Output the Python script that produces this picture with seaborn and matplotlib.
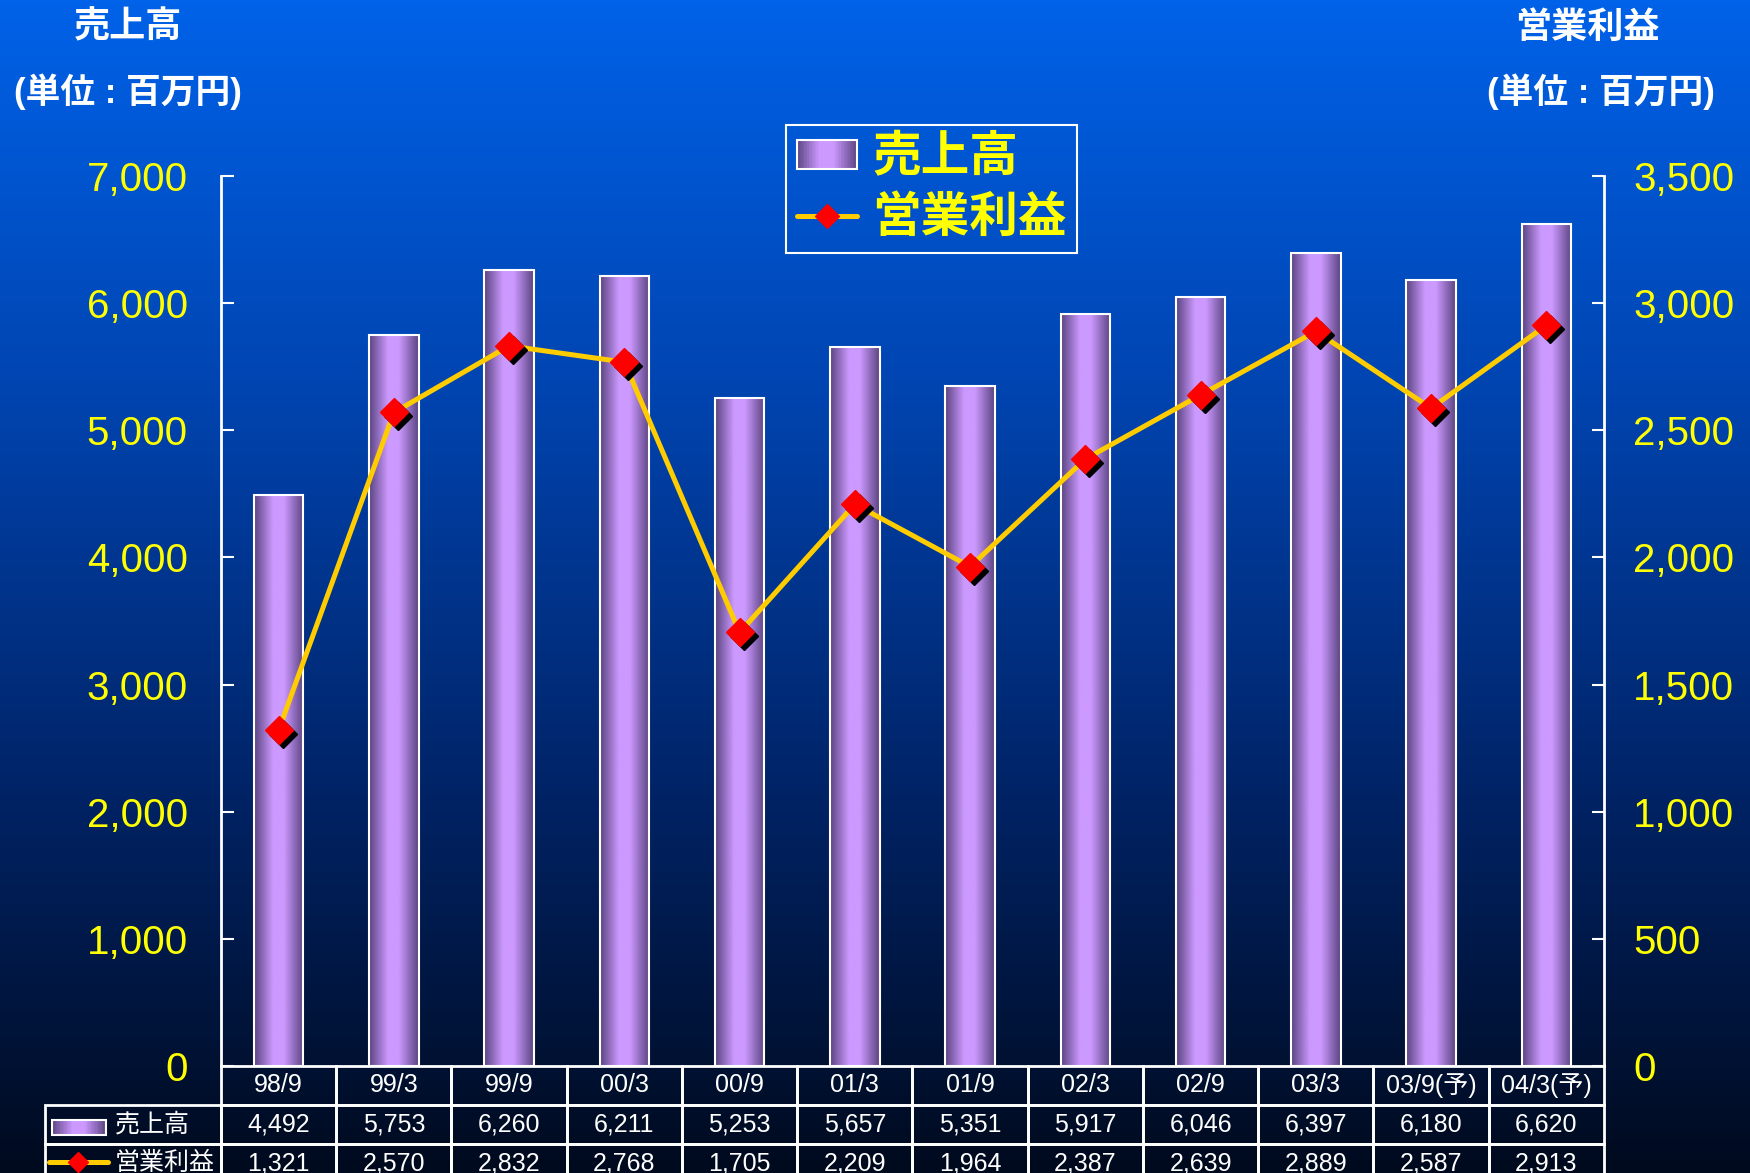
import numpy as np
import pandas as pd
import seaborn as sns
import matplotlib.pyplot as plt
from matplotlib import transforms
from matplotlib.colors import LinearSegmentedColormap
from matplotlib.patches import Rectangle
from matplotlib.lines import Line2D
from matplotlib.legend_handler import HandlerBase
from matplotlib.table import Table
from matplotlib.ticker import FuncFormatter, MultipleLocator

periods = ['98/9', '99/3', '99/9', '00/3', '00/9', '01/3', '01/9', '02/3',
           '02/9', '03/3', '03/9(予)', '04/3(予)']
sales = [4492, 5753, 6260, 6211, 5253, 5657, 5351, 5917, 6046, 6397, 6180, 6620]
profit = [1321, 2570, 2832, 2768, 1705, 2209, 1964, 2387, 2639, 2889, 2587, 2913]

FONT = ['Liberation Sans', 'Noto Sans CJK JP']
sns.set_theme(style='white')
plt.rcParams['font.family'] = FONT
plt.rcParams['axes.unicode_minus'] = False

W, H = 1750, 1173
YELLOW = '#ffff00'
GOLD = '#ffcc00'
bar_cmap = LinearSegmentedColormap.from_list(
    'bar', [(0, '#5a4480'), (0.38, '#cc99ff'), (0.6, '#cc99ff'), (1, '#5a4480')])
bg_cmap = LinearSegmentedColormap.from_list(
    'bg', ['#0062e8', '#0044b0', '#002468', '#000a1e'])

df = pd.DataFrame({'期間': periods, '売上高': sales, '営業利益': profit})
df['pos'] = np.arange(len(df))

fig = plt.figure(figsize=(W / 100, H / 100), dpi=100)
bg = fig.add_axes([0, 0, 1, 1], zorder=-10)
bg.imshow(np.linspace(0, 1, 256)[:, None], aspect='auto', cmap=bg_cmap, extent=[0, 1, 0, 1])
bg.axis('off')

ax = fig.add_axes([221 / W, 1 - 1066 / H, 1383 / W, 890 / H])
ax.set_facecolor('none')

# bars with a horizontal "cylinder" gradient
sns.barplot(data=df, x='期間', y='売上高', ax=ax, width=0.43, color='#a77fd6',
            edgecolor='white', linewidth=1.5)
grad = np.linspace(0, 1, 128)[None, :]
for p in ax.patches:
    x0, w, h = p.get_x(), p.get_width(), p.get_height()
    ax.imshow(grad, cmap=bar_cmap, aspect='auto', extent=[x0, x0 + w, 0, h], zorder=1.5)
    p.set_facecolor('none')
    p.set_zorder(2)
ax.set_xlim(-0.5, len(periods) - 0.5)
ax.set_ylim(0, 7000)

ax2 = ax.twinx()
sns.lineplot(data=df, x='pos', y='営業利益', ax=ax2, color=GOLD, lw=3.6, zorder=2)
shadow = transforms.offset_copy(ax2.transData, fig=fig, x=4, y=-4, units='dots')
ax2.plot(df['pos'], df['営業利益'], 'D', ms=14.5, color='black', transform=shadow, zorder=3)
ax2.plot(df['pos'], df['営業利益'], 'D', ms=14.5, color='red', mec='red', zorder=4)
ax2.set_ylim(0, 3500)
ax.set_xlim(-0.5, len(periods) - 0.5)

fmt = FuncFormatter(lambda v, p: f'{int(v):,}')
for a, step, pad in [(ax, 1000, 24), (ax2, 500, 21)]:
    a.yaxis.set_major_locator(MultipleLocator(step))
    a.yaxis.set_major_formatter(fmt)
    a.tick_params(axis='y', direction='in', length=9, width=1.5, color='white',
                  labelcolor=YELLOW, labelsize=29, pad=pad)
    a.tick_params(axis='x', length=0, labelbottom=False)
    a.set_xlabel('')
    a.set_ylabel('')
    a.grid(False)
    for s in a.spines.values():
        s.set_visible(False)
ax.yaxis.set_ticks_position('left')
ax2.yaxis.set_ticks_position('right')
ax.spines['left'].set_visible(True)
ax.spines['left'].set_color('white')
ax.spines['left'].set_linewidth(2)
ax2.spines['right'].set_visible(True)
ax2.spines['right'].set_color('white')
ax2.spines['right'].set_linewidth(2)


def gradient_rects(x, y, w, h, trans, n=40):
    arts = [Rectangle((x + w * k / n, y), w / n * 1.05, h, facecolor=bar_cmap((k + 0.5) / n),
                      edgecolor='none', transform=trans, antialiased=False) for k in range(n)]
    arts.append(Rectangle((x, y), w, h, facecolor='none', edgecolor='white', lw=1.5,
                          transform=trans))
    return arts


class GradientBarHandler(HandlerBase):
    def create_artists(self, legend, orig_handle, xdescent, ydescent, width, height,
                       fontsize, trans):
        return gradient_rects(-xdescent, -ydescent, width, height, trans)


# data table under the axes
row_h = 39 / 890
lab_w = 176 / 1383
tbl = Table(ax, bbox=[-lab_w, -3 * row_h, 1 + lab_w, 3 * row_h])
ncol = len(periods)
for j, p in enumerate(periods):
    tbl.add_cell(0, j + 1, width=1 / ncol, height=row_h, text=p, loc='center',
                 facecolor='none', edgecolor='white')
for i, vals in enumerate([sales, profit]):
    tbl.add_cell(i + 1, 0, width=lab_w, height=row_h, text='', facecolor='none',
                 edgecolor='white')
    for j, v in enumerate(vals):
        tbl.add_cell(i + 1, j + 1, width=1 / ncol, height=row_h, text=f'{v:,}',
                     loc='center', facecolor='none', edgecolor='white')
tbl.auto_set_font_size(False)
tbl.set_fontsize(18)
for cell in tbl.get_celld().values():
    cell.set_linewidth(2)
    cell.get_text().set_color('white')
ax.add_table(tbl)

# row label glyphs
ft = fig.transFigure
for art in gradient_rects(52 / W, 1 - 1135 / H, 54 / W, 15 / H, ft):
    fig.add_artist(art)
fig.text(115 / W, 1 - 1124 / H, '売上高', color='white', fontsize=18, va='center')
fig.add_artist(Line2D([49 / W, 108 / W], [1 - 1162 / H] * 2, color=GOLD, lw=3.6,
                      transform=ft))
fig.add_artist(Line2D([78 / W], [1 - 1162 / H], marker='D', ms=10, color='red',
                      transform=ft))
fig.text(115 / W, 1 - 1163 / H, '営業利益', color='white', fontsize=18, va='center')

# axis titles
fig.text(128 / W, 1 - 28 / H, '売上高', color='white', fontsize=26, weight='bold',
         ha='center', va='center')
fig.text(128 / W, 1 - 92 / H, '(単位 : 百万円)', color='white', fontsize=25, weight='bold',
         ha='center', va='center')
fig.text(1587 / W, 1 - 28 / H, '営業利益', color='white', fontsize=26, weight='bold',
         ha='center', va='center')
fig.text(1601 / W, 1 - 92 / H, '(単位 : 百万円)', color='white', fontsize=25, weight='bold',
         ha='center', va='center')

# legend
bar_proxy = Rectangle((0, 0), 1, 1)
line_proxy = Line2D([], [], color=GOLD, lw=3.6, marker='D', ms=12.5, mfc='red', mec='red')
leg = fig.legend(handles=[bar_proxy, line_proxy], labels=['売上高', '営業利益'],
                 handler_map={bar_proxy: GradientBarHandler()}, loc='upper left',
                 bbox_to_anchor=(786 / W, 1 - 125 / H), borderaxespad=0,
                 prop={'weight': 'bold', 'size': 35}, labelcolor=YELLOW,
                 handlelength=1.25, handleheight=0.55, handletextpad=0.3,
                 borderpad=0.22, labelspacing=0.3, fancybox=False, frameon=True)
frame = leg.get_frame()
frame.set_facecolor('none')
frame.set_edgecolor('white')
frame.set_linewidth(1.5)
frame.set_alpha(None)

fig.savefig('out.png', dpi=100)
